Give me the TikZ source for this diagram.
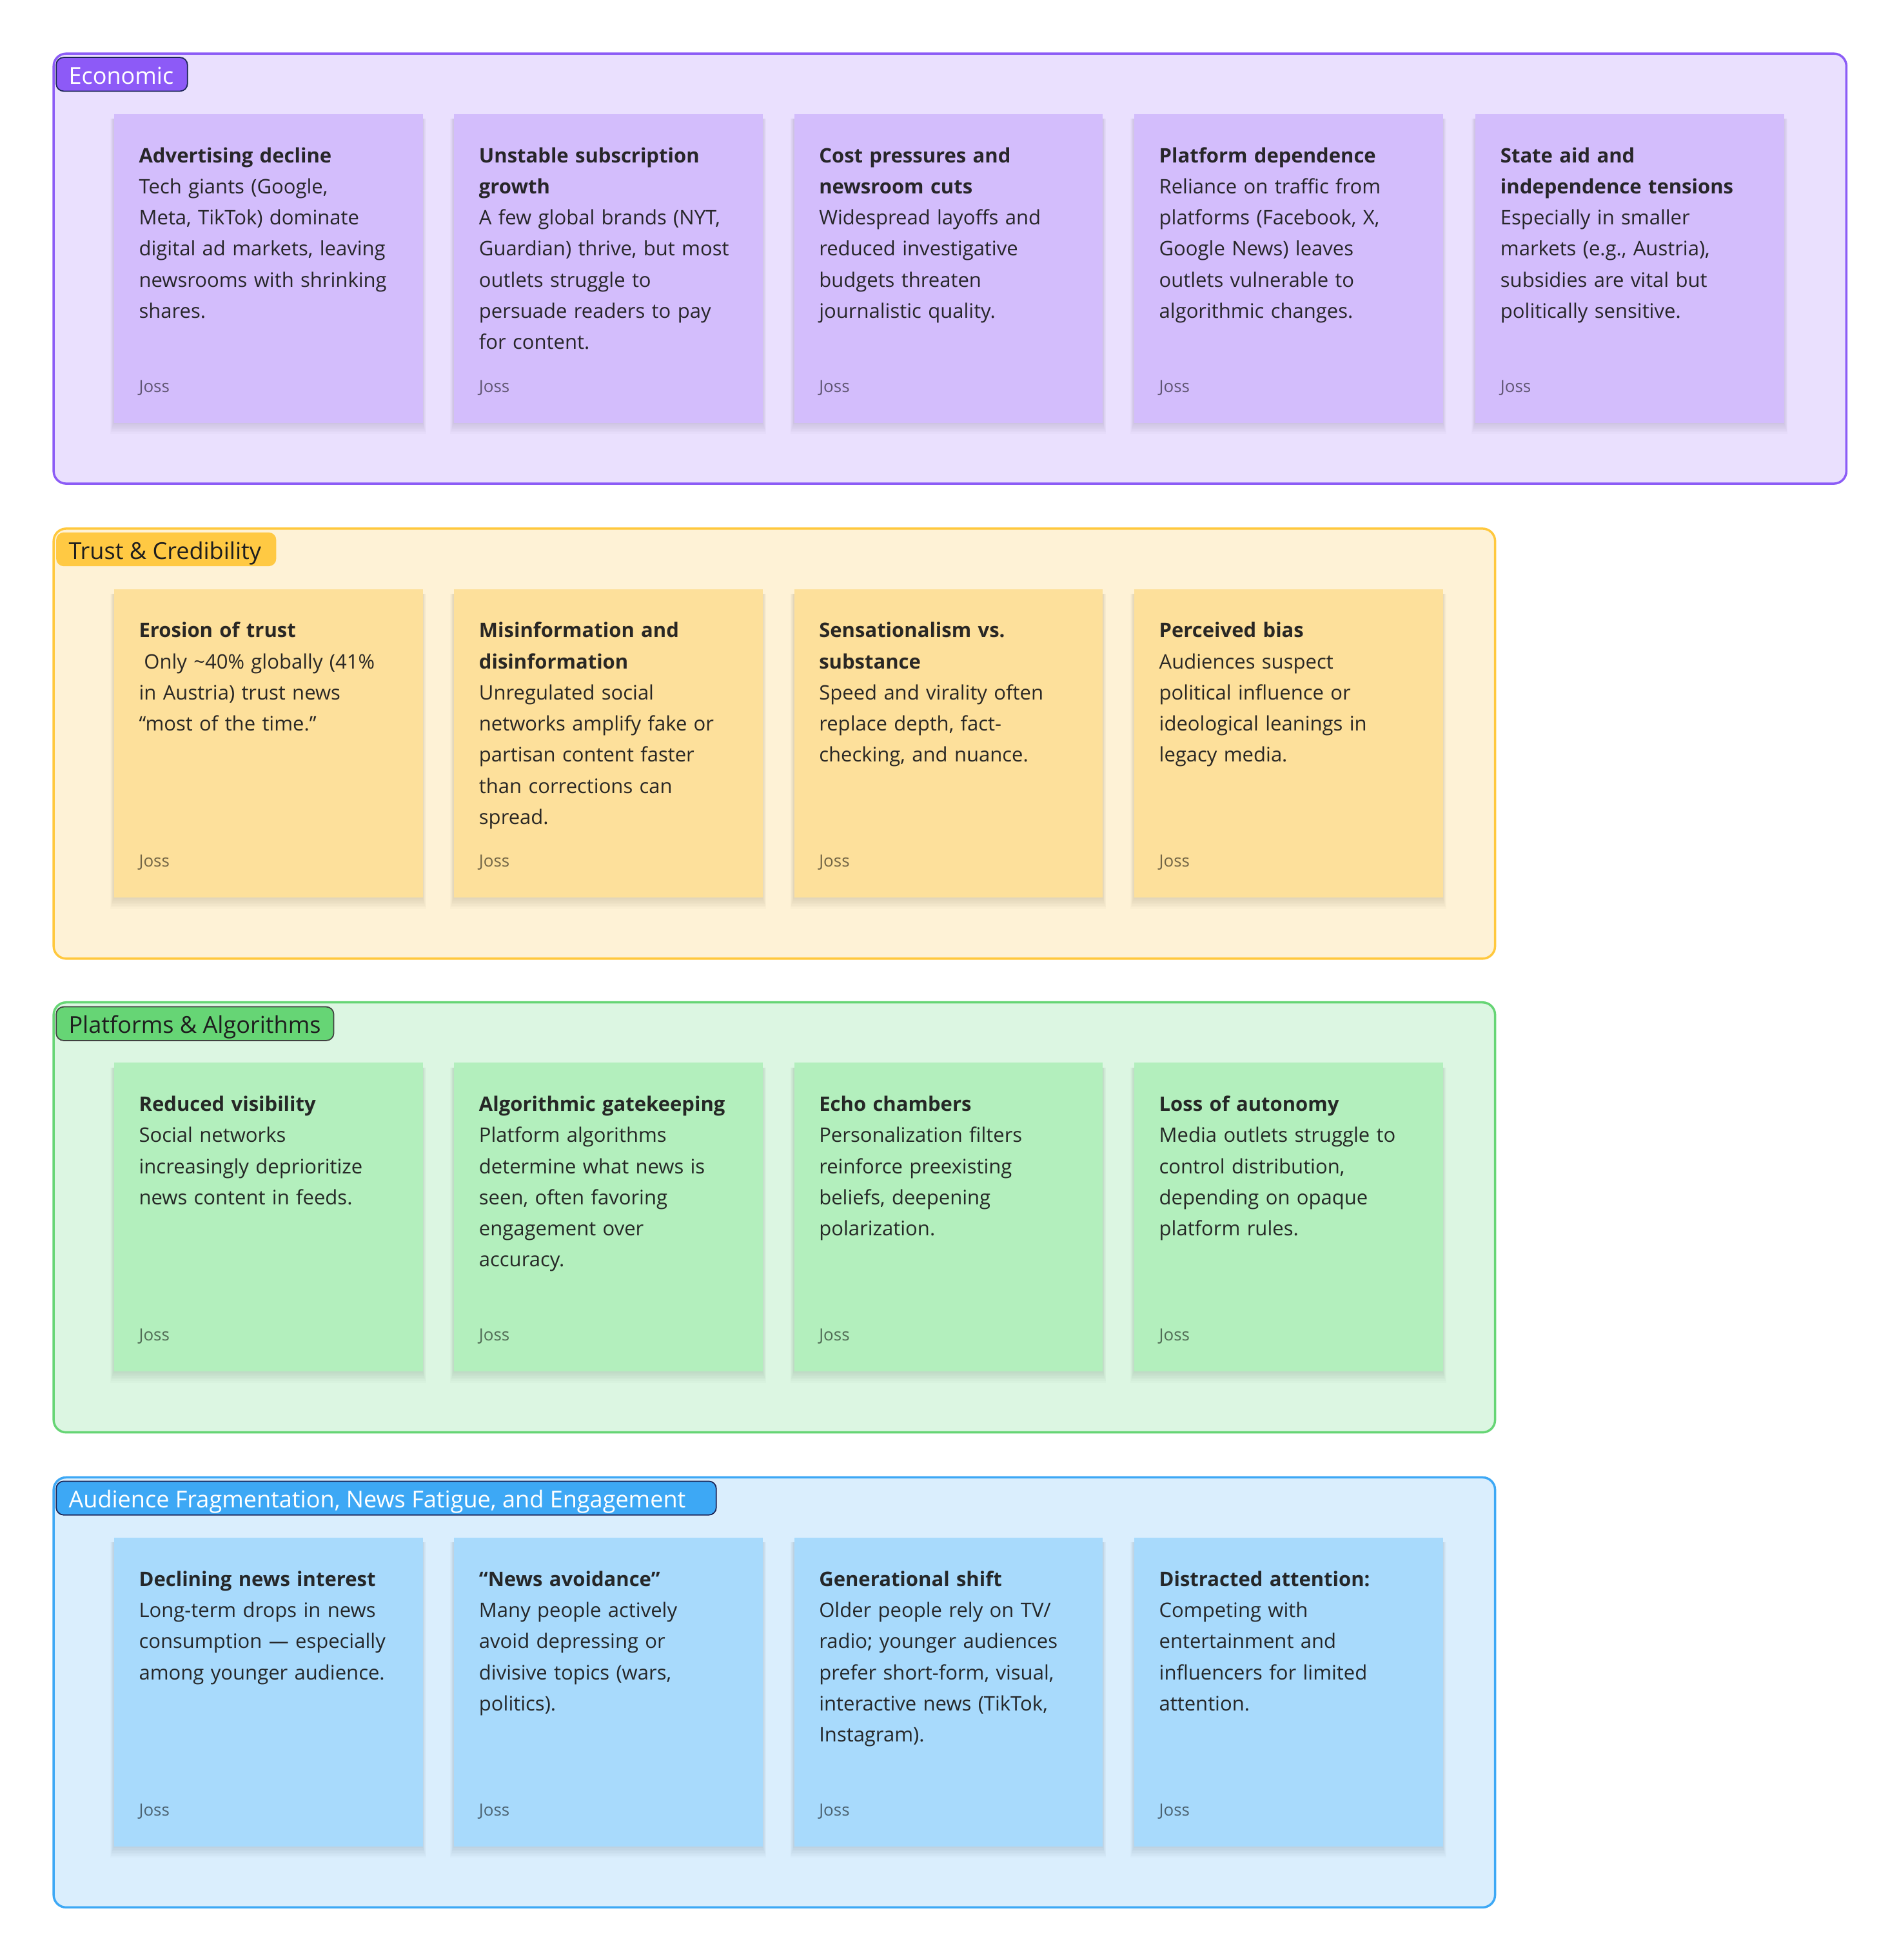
\documentclass[tikz,border=0pt]{standalone}
\usepackage{fontspec}
\setmainfont{Open Sans}
\usetikzlibrary{calc}
\definecolor{ecoF}{HTML}{EAE0FE}
\definecolor{ecoB}{HTML}{8C5CF6}
\definecolor{ecoT}{HTML}{8D5AF7}
\definecolor{ecoS}{HTML}{D3BDFC}
\definecolor{truF}{HTML}{FEF2D6}
\definecolor{truB}{HTML}{FFC83D}
\definecolor{truT}{HTML}{FFC943}
\definecolor{truS}{HTML}{FDE09B}
\definecolor{plaF}{HTML}{DCF6E2}
\definecolor{plaB}{HTML}{66D575}
\definecolor{plaT}{HTML}{66D575}
\definecolor{plaS}{HTML}{B3EFBD}
\definecolor{audF}{HTML}{DAEEFD}
\definecolor{audB}{HTML}{3DA8F5}
\definecolor{audT}{HTML}{3DA8F5}
\definecolor{audS}{HTML}{A8DAFC}
\definecolor{navy}{HTML}{1B2456}
\definecolor{ink}{HTML}{1E1E1E}
\tikzset{
  framebox/.style={draw, line width=1.8pt, rounded corners=10pt, anchor=north west, minimum height=344pt, inner sep=0pt},
  tabbox/.style={rounded corners=6pt, anchor=north west, minimum height=27pt, inner xsep=10pt, inner ysep=0pt, font=\fontsize{18.6}{20}\selectfont, line width=0.9pt},
  stickybox/.style={anchor=north west, minimum width=247pt, minimum height=247pt, inner sep=0pt},
  stickytext/.style={anchor=base west, inner sep=0pt, text width=215pt, align=left, text=ink, text opacity=0.95, font=\fontsize{16}{24.9}\selectfont},
  jossname/.style={anchor=base west, inner sep=0pt, text=black, text opacity=0.55, font=\fontsize{13.4}{14}\selectfont},
}
\newcommand\stickyNote[5]{%
  \foreach \i in {1,...,7}{
    \fill[black, opacity=0.016] ({#2-\i*0.4},{#3+4}) rectangle ({#2+247+\i*0.4},{#3+247+\i*1.3});
  }
  \node[stickybox, fill=#4] (#1) at (#2,#3) {};
  \node[stickytext] (#1-t) at ($(#1.north west)+(20,39)$) {#5};
  \node[jossname] (#1-j) at ($(#1.north west)+(20,222.6)$) {Joss};
}
\newcommand\tabText[2]{\makebox[#1][l]{\rule{0pt}{15.5pt}\smash{#2}}}
\begin{document}
\begin{tikzpicture}[x=1pt,y=-1pt]
\useasboundingbox[fill=white] (0,0) rectangle (1518.5,1568);

% ---------- Economic ----------
\node[framebox, draw=ecoB, fill=ecoF, minimum width=1434pt] (fEco) at (42,42) {};
\node[tabbox, fill=ecoT, draw=navy, text=white, minimum width=105pt] (tEco) at (44.5,45.5) {\tabText{85pt}{Economic}};
\stickyNote{e1}{91}{91}{ecoS}{\textbf{Advertising decline}\\Tech giants (Google,\\Meta, TikTok) dominate\\digital ad markets, leaving\\newsrooms with shrinking\\shares.}
\stickyNote{e2}{363}{91}{ecoS}{\textbf{Unstable subscription}\\\textbf{growth}\\A few global brands (NYT,\\Guardian) thrive, but most\\outlets struggle to\\persuade readers to pay\\for content.}
\stickyNote{e3}{635}{91}{ecoS}{\textbf{Cost pressures and}\\\textbf{newsroom cuts}\\Widespread layoffs and\\reduced investigative\\budgets threaten\\journalistic quality.}
\stickyNote{e4}{907}{91}{ecoS}{\textbf{Platform dependence}\\Reliance on traffic from\\platforms (Facebook, X,\\Google News) leaves\\outlets vulnerable to\\algorithmic changes.}
\stickyNote{e5}{1180}{91}{ecoS}{\textbf{State aid and}\\\textbf{independence tensions}\\Especially in smaller\\markets (e.g., Austria),\\subsidies are vital but\\politically sensitive.}

% ---------- Trust ----------
\node[framebox, draw=truB, fill=truF, minimum width=1153pt] (fTru) at (42,422) {};
\node[tabbox, fill=truT, text=ink, minimum width=176pt] (tTru) at (44.5,425.5) {\tabText{156pt}{Trust \& Credibility}};
\stickyNote{t1}{91}{471}{truS}{\textbf{Erosion of trust}\\\hspace*{4pt}Only \textasciitilde40\% globally (41\%\\in Austria) trust news\\“most of the time.”}
\stickyNote{t2}{363}{471}{truS}{\textbf{Misinformation and}\\\textbf{disinformation}\\Unregulated social\\networks amplify fake or\\partisan content faster\\than corrections can\\spread.}
\stickyNote{t3}{635}{471}{truS}{\textbf{Sensationalism vs.}\\\textbf{substance}\\Speed and virality often\\replace depth, fact-\\checking, and nuance.}
\stickyNote{t4}{907}{471}{truS}{\textbf{Perceived bias}\\Audiences suspect\\political influence or\\ideological leanings in\\legacy media.}

% ---------- Platforms ----------
\node[framebox, draw=plaB, fill=plaF, minimum width=1153pt] (fPla) at (42,801) {};
\node[tabbox, fill=plaT, draw=black!75, text=ink, minimum width=222pt] (tPla) at (44.5,805) {\tabText{202pt}{Platforms \& Algorithms}};
\stickyNote{p1}{91}{850}{plaS}{\textbf{Reduced visibility}\\Social networks\\increasingly deprioritize\\news content in feeds.}
\stickyNote{p2}{363}{850}{plaS}{\textbf{Algorithmic gatekeeping}\\Platform algorithms\\determine what news is\\seen, often favoring\\engagement over\\accuracy.}
\stickyNote{p3}{635}{850}{plaS}{\textbf{Echo chambers}\\Personalization filters\\reinforce preexisting\\beliefs, deepening\\polarization.}
\stickyNote{p4}{907}{850}{plaS}{\textbf{Loss of autonomy}\\Media outlets struggle to\\control distribution,\\depending on opaque\\platform rules.}

% ---------- Audience ----------
\node[framebox, draw=audB, fill=audF, minimum width=1153pt] (fAud) at (42,1181) {};
\node[tabbox, fill=audT, draw=navy, text=white, minimum width=528pt] (tAud) at (44.5,1184.5) {\tabText{508pt}{Audience Fragmentation, News Fatigue, and Engagement}};
\stickyNote{a1}{91}{1230}{audS}{\textbf{Declining news interest}\\Long-term drops in news\\consumption — especially\\among younger audience.}
\stickyNote{a2}{363}{1230}{audS}{\textbf{“News avoidance”}\\Many people actively\\avoid depressing or\\divisive topics (wars,\\politics).}
\stickyNote{a3}{635}{1230}{audS}{\textbf{Generational shift}\\Older people rely on TV/\\radio; younger audiences\\prefer short-form, visual,\\interactive news (TikTok,\\Instagram).}
\stickyNote{a4}{907}{1230}{audS}{\textbf{Distracted attention:}\\Competing with\\entertainment and\\influencers for limited\\attention.}
\end{tikzpicture}
\end{document}
